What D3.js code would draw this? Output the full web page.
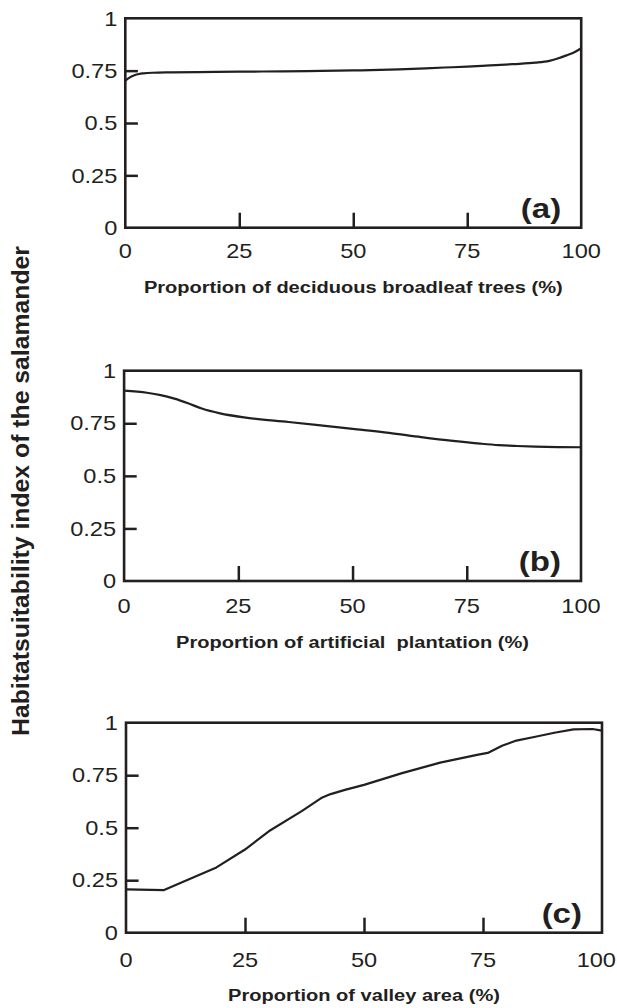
<!DOCTYPE html>
<html>
<head>
<meta charset="utf-8">
<script src="https://cdn.jsdelivr.net/npm/d3@7"></script>
<style>
  body { margin: 0; background: #fff; }
  svg { display: block; }
  text { font-family: Arial, "Liberation Sans", Helvetica, sans-serif; fill: #231f20; }
</style>
</head>
<body>
<script>
// values
var deciduousX = [0, 1, 2, 3, 4, 6, 10, 20, 30, 40, 50, 60, 70, 75, 80, 85, 90, 93, 95, 97, 98.5, 100];
var deciduousY = [0.702, 0.718, 0.728, 0.734, 0.737, 0.740, 0.742, 0.744, 0.746, 0.748, 0.751, 0.756, 0.765, 0.769, 0.775, 0.781, 0.788, 0.797, 0.809, 0.825, 0.838, 0.857];

var plantationX = [0, 5, 8, 11, 14, 17, 21, 27, 36, 45, 51, 58, 65, 72, 78, 82, 86, 90, 95, 100];
var plantationY = [0.905, 0.895, 0.884, 0.867, 0.845, 0.820, 0.797, 0.776, 0.756, 0.735, 0.721, 0.704, 0.684, 0.666, 0.653, 0.646, 0.642, 0.639, 0.637, 0.636];

var valleyX = [0, 8, 13, 19, 25, 30, 37, 41, 43, 46, 50, 58, 66, 74, 76, 79, 82, 86, 90, 94, 98, 100];
var valleyY = [0.206, 0.203, 0.252, 0.311, 0.396, 0.483, 0.580, 0.641, 0.660, 0.680, 0.704, 0.760, 0.810, 0.848, 0.856, 0.890, 0.915, 0.933, 0.952, 0.968, 0.970, 0.962];

var xTickValues = [0, 25, 50, 75, 100];
var xTickLabels = ["0", "25", "50", "75", "100"];
var yTickValues = [0, 0.25, 0.5, 0.75, 1];
var yTickLabels = ["0", "0.25", "0.5", "0.75", "1"];

var panelLetters = ["(a)", "(b)", "(c)"];
var xTitles = [
  "Proportion of deciduous broadleaf trees (%)",
  "Proportion of artificial\u00a0 plantation (%)",
  "Proportion of valley area (%)"
];
var yTitle = "Habitatsuitability index of the salamander";

var W = 617, H = 1008;
var sx = 1.18;   // the figure is a bit stretched sideways
var ink = "#231f20";

// layout of each panel box (pixels)
var layout = [
  { left: 125.3, right: 581.2, top: 18.3, bottom: 227.7, labDy: 30.6, titleDy: 65, smooth: true },
  { left: 124.1, right: 581, top: 370.7, bottom: 581, labDy: 32.3, titleDy: 67, smooth: true },
  { left: 126, right: 602, top: 722.7, bottom: 932.7, labDy: 34, titleDy: 68, smooth: false }
];
var series = [
  d3.zip(deciduousX, deciduousY),
  d3.zip(plantationX, plantationY),
  d3.zip(valleyX, valleyY)
];

var svg = d3.select("body").append("svg").attr("width", W).attr("height", H);

layout.forEach(function (p, i) {
  var x = d3.scaleLinear().domain([0, 100]).range([p.left, p.right]);
  var y = d3.scaleLinear().domain([0, 1]).range([p.bottom, p.top]);
  var g = svg.append("g");

  // inside ticks
  var xa = g.append("g").attr("transform", "translate(0," + p.bottom + ")")
    .call(d3.axisBottom(x).tickValues([25, 50, 75]).tickSizeInner(-15).tickSizeOuter(0).tickFormat(""));
  var ya = g.append("g").attr("transform", "translate(" + p.left + ",0)")
    .call(d3.axisLeft(y).tickValues([0.25, 0.5, 0.75]).tickSizeInner(-12.6).tickSizeOuter(0).tickFormat(""));
  [xa, ya].forEach(function (a) {
    a.select(".domain").remove();
    a.selectAll("line").attr("stroke", ink).attr("stroke-width", 2.5);
  });

  // tick labels (the last one is pulled in so it stays on the page)
  var xl = g.selectAll(".xl").data(xTickValues).enter().append("text")
    .attr("text-anchor", "middle").style("font-size", "20px")
    .text(function (d, k) { return xTickLabels[k]; });
  xl.attr("transform", function (d) {
    var half = this.getComputedTextLength() * sx / 2;
    var cx = Math.min(x(d), W - 1 - half);
    return "translate(" + cx + "," + (p.bottom + p.labDy) + ") scale(" + sx + ",1)";
  });
  g.selectAll(".yl").data(yTickValues).enter().append("text")
    .attr("transform", function (d) { return "translate(" + (p.left - 8) + "," + y(d) + ") scale(" + sx + ",1)"; })
    .attr("text-anchor", "end").attr("dy", "0.36em").style("font-size", "20px")
    .text(function (d, k) { return yTickLabels[k]; });

  // curve
  var line = d3.line()
    .x(function (d) { return x(d[0]); })
    .y(function (d) { return y(d[1]); })
    .curve(p.smooth ? d3.curveMonotoneX : d3.curveLinear);
  g.append("path").datum(series[i]).attr("d", line)
    .attr("fill", "none").attr("stroke", ink).attr("stroke-width", 2.2).attr("stroke-linejoin", "round");

  // frame
  g.append("rect").attr("x", p.left).attr("y", p.top)
    .attr("width", p.right - p.left).attr("height", p.bottom - p.top)
    .attr("fill", "none").attr("stroke", ink).attr("stroke-width", 2.6);

  // panel letter
  g.append("text")
    .attr("transform", "translate(" + (p.right - 20) + "," + (p.bottom - 10) + ") scale(" + sx + ",1)")
    .attr("text-anchor", "end").style("font-size", "28px").style("font-weight", "bold")
    .text(panelLetters[i]);

  // x title
  g.append("text")
    .attr("transform", "translate(" + ((p.left + p.right) / 2) + "," + (p.bottom + p.titleDy) + ") scale(" + sx + ",1)")
    .attr("text-anchor", "middle").style("font-size", "17px").style("font-weight", "bold")
    .text(xTitles[i]);
});

// shared y title
svg.append("text")
  .attr("transform", "translate(28.5,491) rotate(-90) scale(1," + sx + ")")
  .attr("text-anchor", "middle").style("font-size", "20px").style("font-weight", "bold")
  .attr("textLength", 490).attr("lengthAdjust", "spacingAndGlyphs")
  .text(yTitle);
</script>
</body>
</html>
